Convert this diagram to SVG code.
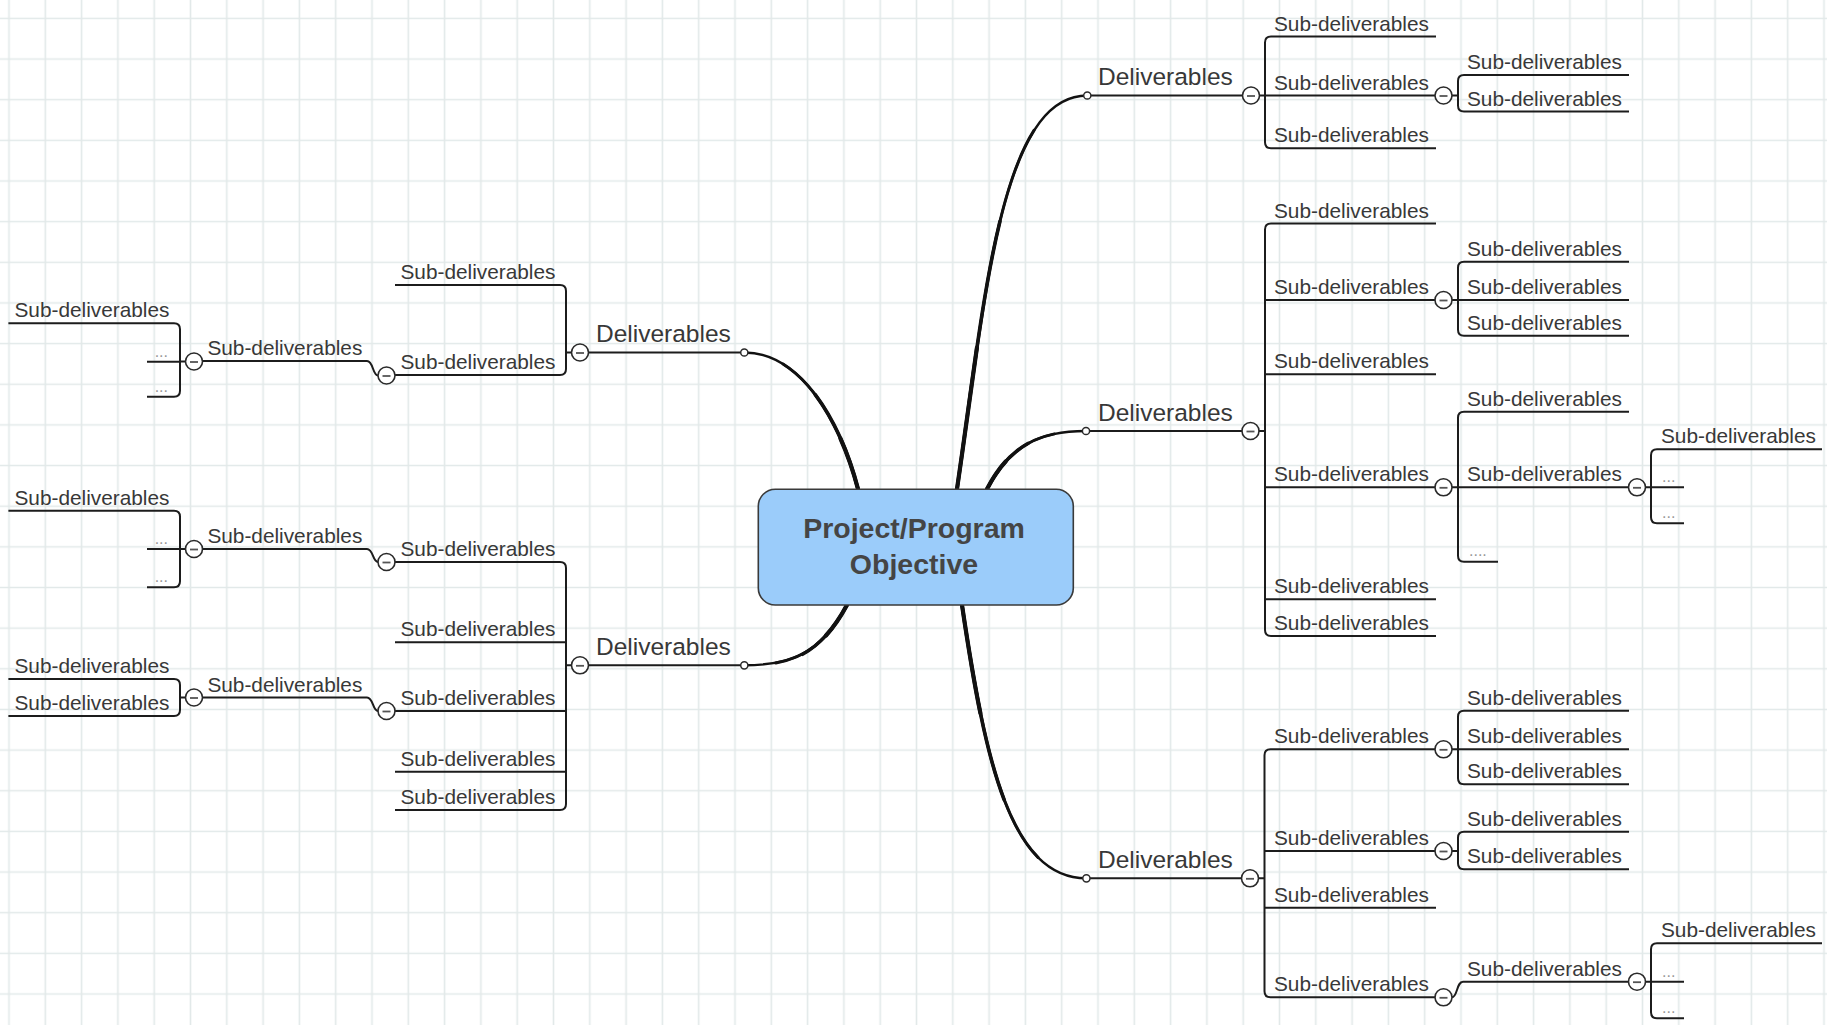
<svg xmlns="http://www.w3.org/2000/svg" xmlns:xlink="http://www.w3.org/1999/xlink" width="1827" height="1025" viewBox="0 0 1827 1025">
<style>
.ln{fill:none;stroke:#1c1c1c;stroke-width:2;stroke-linejoin:round}
.mc{fill:none;stroke:#111;stroke-linecap:round}
.w1{stroke-width:2.4}.w2{stroke-width:3}.w3{stroke-width:3.6}.w4{stroke-width:4.2}
text{font-family:"Liberation Sans",Arial,sans-serif;fill:#383838}
.s{font-size:20.8px}
.d{font-size:24.5px}
.x{font-size:16px;fill:#999}
.t{font-size:28.5px;font-weight:bold;fill:#454545;text-anchor:middle}
</style>
<defs>
<pattern id="grid" patternUnits="userSpaceOnUse" x="-9.15" y="-1.925" width="36.3" height="40.65">
<path d="M18.15,0V40.65M0,20.325H36.3" stroke="#e2e9e9" stroke-width="1.6" fill="none"/>
</pattern>
<g id="btn"><circle r="8.5" fill="#fff" stroke="#2a2a2a" stroke-width="1.6"/><path d="M-4,0.5H4" stroke="#555" stroke-width="1.8"/></g>
<circle id="dot" r="3.6" fill="#fff" stroke="#2a2a2a" stroke-width="1.5"/>
</defs>
<rect width="1827" height="1025" fill="#fff"/>
<rect width="1827" height="1025" fill="url(#grid)"/>

<g id="connectors">
<!-- main curves (tapered by overlapping partial strokes) -->
<path class="mc w1" d="M858,489 C840,420 800,352.5 744.3,352.5"/>
<path class="mc w2" d="M858,489 C844.5,437.25 818.6,386.3 783,364.1"/>
<path class="mc w3" d="M858,489 C849,454.5 834.5,420.25 815.25,394.6"/>
<path class="mc w4" d="M858,489 C853.5,471.75 847.6,454.6 840.5,438.6"/>

<path class="mc w1" d="M847,605 C820,655 790,665.3 744.3,665.3"/>
<path class="mc w2" d="M847,605 C826.75,642.5 804.8,657.7 775.8,662.9"/>
<path class="mc w3" d="M847,605 C833.5,630 819.25,645.25 802.6,654.25"/>
<path class="mc w4" d="M847,605 C840.25,617.5 833.3,627.5 826,635.5"/>

<path class="mc w1" d="M957,489 C985,300 1000,95.5 1087.3,95.5"/>
<path class="mc w2" d="M957,489 C978,347.25 991.7,196.8 1034,130.4"/>
<path class="mc w3" d="M957,489 C971,394.5 981.75,296.25 999.9,221.6"/>
<path class="mc w4" d="M957,489 C964,441.75 970.2,393.5 976.9,347.8"/>

<path class="mc w1" d="M987,489 C1010,445 1040,431 1086,431"/>
<path class="mc w2" d="M987,489 C1004.25,456 1025.4,439.9 1054.4,433.9"/>
<path class="mc w3" d="M987,489 C998.5,467 1011.75,452.5 1027.9,443.5"/>
<path class="mc w4" d="M987,489 C992.75,478 998.9,468.9 1005.7,461.4"/>

<path class="mc w1" d="M962,605 C985,760 1010,878.3 1086.4,878.3"/>
<path class="mc w2" d="M962,605 C979.25,721.25 997.6,816.9 1038,857.4"/>
<path class="mc w3" d="M962,605 C973.5,682.5 985.5,750.75 1004.1,799.6"/>
<path class="mc w4" d="M962,605 C967.75,643.75 973.6,680.2 980.4,713.1"/>
<!-- R1 -->
<path class="ln" d="M1090.9,95.5H1242.5M1259.5,95.5H1265M1436,36.5H1271Q1265,36.5 1265,42.5V142.3Q1265,148.3 1271,148.3H1436M1265,95.5H1435"/>
<path class="ln" d="M1452,95.5H1458M1629,75H1464Q1458,75 1458,81V105.5Q1458,111.5 1464,111.5H1629"/>
<!-- R2 -->
<path class="ln" d="M1089.6,431H1242M1259,431H1265M1436,223.5H1271Q1265,223.5 1265,229.5V630Q1265,636 1271,636H1436M1265,300H1435M1265,374.3H1436M1265,487.3H1435M1265,599.3H1436"/>
<path class="ln" d="M1452,300H1458M1629,261.7H1464Q1458,261.7 1458,267.7V329.7Q1458,335.7 1464,335.7H1629M1458,300H1629"/>
<path class="ln" d="M1452,487.3H1458M1629,411.7H1464Q1458,411.7 1458,417.7V555.7Q1458,561.7 1464,561.7H1498M1458,487.3H1628.5"/>
<path class="ln" d="M1645.5,487.3H1651M1822,449.3H1657Q1651,449.3 1651,455.3V517.3Q1651,523.3 1657,523.3H1684M1651,487.3H1684"/>
<!-- R3 -->
<path class="ln" d="M1090,878.3H1241.5M1258.5,878.3H1264.5M1435,749.3H1270.5Q1264.5,749.3 1264.5,755.3V991.3Q1264.5,997.3 1270.5,997.3H1435M1264.5,851H1435M1264.5,907.7H1436"/>
<path class="ln" d="M1452,749.3H1458M1629,710.7H1464Q1458,710.7 1458,716.7V778.3Q1458,784.3 1464,784.3H1629M1458,749.3H1629"/>
<path class="ln" d="M1452,851H1458M1629,831.7H1464Q1458,831.7 1458,837.7V863.3Q1458,869.3 1464,869.3H1629"/>
<path class="ln" d="M1452,997.3C1457.5,997.3 1456.5,981.7 1463,981.7H1628.5M1645.5,981.7H1651M1822,943.3H1657Q1651,943.3 1651,949.3V1012.3Q1651,1018.3 1657,1018.3H1684M1651,981.7H1684"/>
<!-- L1 -->
<path class="ln" d="M588.5,352.5H740.7M566,352.5H571.5M395,285H560Q566,285 566,291V369Q566,375 560,375H395"/>
<path class="ln" d="M202.5,361H367C373.5,361 372.5,375.5 378,375.5M185.5,361.5H180M8.4,323.3H174Q180,323.3 180,329.3V390.7Q180,396.7 174,396.7H147M180,361.7H147"/>
<!-- L2 -->
<path class="ln" d="M588.5,665.3H740.7M566,665.3H571.5M395,562H560Q566,562 566,568V804Q566,810 560,810H395M566,642.3H395M566,711H395M566,771.7H395"/>
<path class="ln" d="M202.5,549H367C373.5,549 372.5,562 378,562M185.5,549H180M8.4,510.7H174Q180,510.7 180,516.7V581.3Q180,587.3 174,587.3H147M180,549H147"/>
<path class="ln" d="M202.5,697.5H367C373.5,697.5 372.5,711 378,711M185.5,697.5H180M8.4,679H174Q180,679 180,685V710Q180,716 174,716H8.4"/>
</g>

<g id="center">
<rect x="758.3" y="489.3" width="315" height="115.7" rx="17" fill="#9bccfa" stroke="#3a3a3a" stroke-width="1.6"/>
<text class="t" x="914" y="538.3">Project/Program</text>
<text class="t" x="914" y="574">Objective</text>
</g>

<!-- Right top -->
<g id="r1"><use href="#dot" x="1087.3" y="95.5"/><text class="d" x="1098" y="85">Deliverables</text><use href="#btn" x="1251" y="95.5"/></g>
<g id="r1c1"><text class="s" x="1274" y="30.5">Sub-deliverables</text></g>
<g id="r1c2"><text class="s" x="1274" y="89.5">Sub-deliverables</text><use href="#btn" x="1443.5" y="95.5"/></g>
<g id="r1c2a"><text class="s" x="1467" y="69">Sub-deliverables</text></g>
<g id="r1c2b"><text class="s" x="1467" y="105.5">Sub-deliverables</text></g>
<g id="r1c3"><text class="s" x="1274" y="142.3">Sub-deliverables</text></g>

<!-- Right middle -->
<g id="r2"><use href="#dot" x="1086" y="431"/><text class="d" x="1098" y="420.5">Deliverables</text><use href="#btn" x="1250.5" y="431"/></g>
<g id="r2c1"><text class="s" x="1274" y="217.5">Sub-deliverables</text></g>
<g id="r2c2"><text class="s" x="1274" y="294">Sub-deliverables</text><use href="#btn" x="1443.5" y="300"/></g>
<g id="r2c2a"><text class="s" x="1467" y="255.7">Sub-deliverables</text></g>
<g id="r2c2b"><text class="s" x="1467" y="294">Sub-deliverables</text></g>
<g id="r2c2c"><text class="s" x="1467" y="329.7">Sub-deliverables</text></g>
<g id="r2c3"><text class="s" x="1274" y="368.3">Sub-deliverables</text></g>
<g id="r2c4"><text class="s" x="1274" y="481.3">Sub-deliverables</text><use href="#btn" x="1443.5" y="487.3"/></g>
<g id="r2c4a"><text class="s" x="1467" y="405.7">Sub-deliverables</text></g>
<g id="r2c4b"><text class="s" x="1467" y="481.3">Sub-deliverables</text><use href="#btn" x="1637" y="487.3"/></g>
<g id="r2c4b1"><text class="s" x="1661" y="443.3">Sub-deliverables</text></g>
<g id="r2c4b2"><text class="x" x="1662" y="482">...</text></g>
<g id="r2c4b3"><text class="x" x="1662" y="518">...</text></g>
<g id="r2c4c"><text class="x" x="1469" y="556">....</text></g>
<g id="r2c5"><text class="s" x="1274" y="593.3">Sub-deliverables</text></g>
<g id="r2c6"><text class="s" x="1274" y="630">Sub-deliverables</text></g>

<!-- Right bottom -->
<g id="r3"><use href="#dot" x="1086.4" y="878.3"/><text class="d" x="1098" y="867.8">Deliverables</text><use href="#btn" x="1250" y="878.3"/></g>
<g id="r3c1"><text class="s" x="1274" y="743.3">Sub-deliverables</text><use href="#btn" x="1443.5" y="749.3"/></g>
<g id="r3c1a"><text class="s" x="1467" y="704.7">Sub-deliverables</text></g>
<g id="r3c1b"><text class="s" x="1467" y="743.3">Sub-deliverables</text></g>
<g id="r3c1c"><text class="s" x="1467" y="778.3">Sub-deliverables</text></g>
<g id="r3c2"><text class="s" x="1274" y="845">Sub-deliverables</text><use href="#btn" x="1443.5" y="851"/></g>
<g id="r3c2a"><text class="s" x="1467" y="825.7">Sub-deliverables</text></g>
<g id="r3c2b"><text class="s" x="1467" y="863.3">Sub-deliverables</text></g>
<g id="r3c3"><text class="s" x="1274" y="901.7">Sub-deliverables</text></g>
<g id="r3c4"><text class="s" x="1274" y="991.3">Sub-deliverables</text><use href="#btn" x="1443.5" y="997.3"/></g>
<g id="r3c4a"><text class="s" x="1467" y="975.7">Sub-deliverables</text><use href="#btn" x="1637" y="981.7"/></g>
<g id="r3c4a1"><text class="s" x="1661" y="937.3">Sub-deliverables</text></g>
<g id="r3c4a2"><text class="x" x="1662" y="976.5">...</text></g>
<g id="r3c4a3"><text class="x" x="1662" y="1013">...</text></g>

<!-- Left top -->
<g id="l1"><use href="#dot" x="744.3" y="352.5"/><text class="d" x="596" y="342">Deliverables</text><use href="#btn" x="580" y="352.5"/></g>
<g id="l1c1"><text class="s" x="400.5" y="279">Sub-deliverables</text></g>
<g id="l1c2"><text class="s" x="400.5" y="369">Sub-deliverables</text><use href="#btn" x="386.5" y="375.5"/></g>
<g id="l1c2a"><text class="s" x="207.4" y="355">Sub-deliverables</text><use href="#btn" x="194" y="361.5"/></g>
<g id="l1c2a1"><text class="s" x="14.5" y="317.3">Sub-deliverables</text></g>
<g id="l1c2a2"><text class="x" x="168" y="356.5" text-anchor="end">...</text></g>
<g id="l1c2a3"><text class="x" x="168" y="391.5" text-anchor="end">...</text></g>

<!-- Left bottom -->
<g id="l2"><use href="#dot" x="744.3" y="665.3"/><text class="d" x="596" y="654.8">Deliverables</text><use href="#btn" x="580" y="665.3"/></g>
<g id="l2c1"><text class="s" x="400.5" y="556">Sub-deliverables</text><use href="#btn" x="386.5" y="562"/></g>
<g id="l2c1a"><text class="s" x="207.4" y="543">Sub-deliverables</text><use href="#btn" x="194" y="549"/></g>
<g id="l2c1a1"><text class="s" x="14.5" y="504.7">Sub-deliverables</text></g>
<g id="l2c1a2"><text class="x" x="168" y="544" text-anchor="end">...</text></g>
<g id="l2c1a3"><text class="x" x="168" y="582.3" text-anchor="end">...</text></g>
<g id="l2c2"><text class="s" x="400.5" y="636.3">Sub-deliverables</text></g>
<g id="l2c3"><text class="s" x="400.5" y="705">Sub-deliverables</text><use href="#btn" x="386.5" y="711"/></g>
<g id="l2c3a"><text class="s" x="207.4" y="691.5">Sub-deliverables</text><use href="#btn" x="194" y="697.5"/></g>
<g id="l2c3a1"><text class="s" x="14.5" y="673">Sub-deliverables</text></g>
<g id="l2c3a2"><text class="s" x="14.5" y="710">Sub-deliverables</text></g>
<g id="l2c4"><text class="s" x="400.5" y="765.7">Sub-deliverables</text></g>
<g id="l2c5"><text class="s" x="400.5" y="804">Sub-deliverables</text></g>
</svg>
